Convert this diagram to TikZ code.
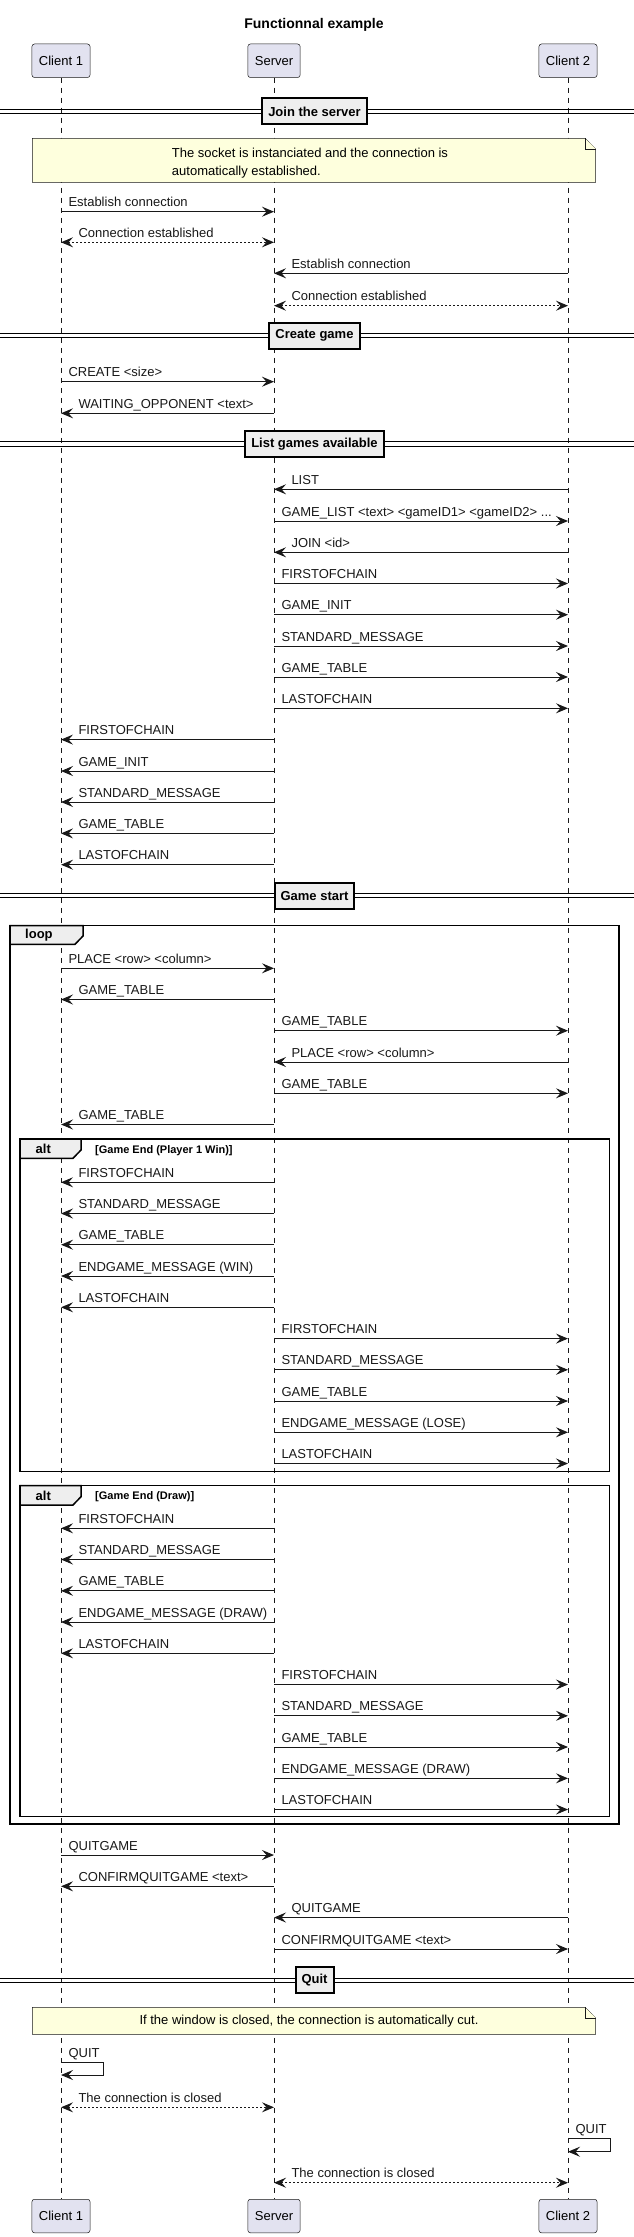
\documentclass[tikz,border=0pt]{standalone}
\usepackage{fontspec}
\setmainfont{Liberation Sans}
\usetikzlibrary{arrows.meta}
\definecolor{umlline}{HTML}{181818}
\definecolor{partfill}{HTML}{E2E2F0}
\definecolor{notefill}{HTML}{FEFFDD}
\definecolor{boxfill}{HTML}{EEEEEE}

\begin{document}
\begin{tikzpicture}[x=1pt,y=-1pt,
  every node/.style={font=\fontsize{13}{15}\selectfont},
  part/.style={draw=umlline,fill=partfill,rounded corners=2.5pt,line width=0.5pt,minimum height=33.5pt,inner xsep=7pt},
  life/.style={umlline,line width=0.5pt,dash pattern=on 5pt off 5pt},
  msg/.style={umlline,line width=1pt,-{Stealth[length=12pt,width=10pt,inset=4.5pt]}},
  rep/.style={umlline,line width=1pt,dash pattern=on 2pt off 2pt,{Stealth[length=12pt,width=10pt,inset=4.5pt]}-{Stealth[length=12pt,width=10pt,inset=4.5pt]}},
  lr/.style={pos=0,anchor=base west,xshift=7pt,yshift=5pt,inner sep=0pt},
  ll/.style={pos=1,anchor=base west,xshift=17pt,yshift=5pt,inner sep=0pt},
  dline/.style={black,line width=1pt},
  divbox/.style={draw=black,line width=2pt,fill=boxfill,inner xsep=6pt,minimum height=26pt,font=\bfseries\fontsize{13}{15}\selectfont},
  note/.style={draw=umlline,line width=0.5pt,fill=notefill},
  frame/.style={draw=black,line width=1.5pt},
  tabbox/.style={draw=black,line width=1.5pt,fill=boxfill},
  tablbl/.style={anchor=west,inner sep=0pt,font=\bfseries\fontsize{13}{15}\selectfont},
  cond/.style={anchor=base west,inner sep=0pt,font=\bfseries\fontsize{11}{13}\selectfont}
]
\useasboundingbox (0,0) rectangle (634,2237);

% title and participants
\node[font=\bfseries\fontsize{14}{16}\selectfont] (title) at (314,25) {Functionnal example};
\node[part] (c1) at (61,60.75) {Client 1};
\node[part] (srv) at (274,60.75) {Server};
\node[part] (c2) at (568,60.75) {Client 2};
\node[part] (c1b) at (61,2216) {Client 1};
\node[part] (srvb) at (274,2216) {Server};
\node[part] (c2b) at (568,2216) {Client 2};
\draw[life] (c1) -- (c1b);
\draw[life] (srv) -- (srvb);
\draw[life] (c2) -- (c2b);

% join the server
\draw[dline] (0,109.3) -- (634,109.3);
\draw[dline] (0,113.7) -- (634,113.7);
\node[divbox] (d1) at (314.5,111.5) {Join the server};
\draw[note] (32.4,138.3) -- (585,138.3) -- (595.6,148.8) -- (595.6,182.3) -- (32.4,182.3) -- cycle;
\draw[note] (585,138.3) -- (585,148.8) -- (595.6,148.8);
\node[align=left,font=\fontsize{13}{17.7}\selectfont] (n1) at (310,163) {The socket is instanciated and the connection is\\automatically established.};
\draw[msg] (c1 |- 0,211.7) -- (srv |- 0,211.7) node[lr] (t1) {Establish connection};
\draw[rep] (c1 |- 0,242.3) -- (srv |- 0,242.3) node[lr,xshift=10pt] (t2) {Connection established};
\draw[msg] (c2 |- 0,273.3) -- (srv |- 0,273.3) node[ll] (t3) {Establish connection};
\draw[rep] (srv |- 0,305.7) -- (c2 |- 0,305.7) node[lr,xshift=10pt] (t4) {Connection established};

% create game
\draw[dline] (0,333.5) -- (634,333.5);
\draw[dline] (0,337.9) -- (634,337.9);
\node[divbox] (d2) at (314.5,335.7) {Create game};
\draw[msg] (c1 |- 0,381.7) -- (srv |- 0,381.7) node[lr] (t5) {CREATE <size>};
\draw[msg] (srv |- 0,413.3) -- (c1 |- 0,413.3) node[ll] (t6) {WAITING\_OPPONENT <text>};

% list games available
\draw[dline] (0,441.8) -- (634,441.8);
\draw[dline] (0,446.2) -- (634,446.2);
\node[divbox] (d3) at (314.5,444) {List games available};
\draw[msg] (c2 |- 0,489.3) -- (srv |- 0,489.3) node[ll] (t7) {LIST};
\draw[msg] (srv |- 0,521) -- (c2 |- 0,521) node[lr] (t8) {GAME\_LIST <text> <gameID1> <gameID2> ...};
\draw[msg] (c2 |- 0,552.3) -- (srv |- 0,552.3) node[ll] (t9) {JOIN <id>};
\draw[msg] (srv |- 0,583.5) -- (c2 |- 0,583.5) node[lr] (t10) {FIRSTOFCHAIN};
\draw[msg] (srv |- 0,614.7) -- (c2 |- 0,614.7) node[lr] (t11) {GAME\_INIT};
\draw[msg] (srv |- 0,646) -- (c2 |- 0,646) node[lr] (t12) {STANDARD\_MESSAGE};
\draw[msg] (srv |- 0,677) -- (c2 |- 0,677) node[lr] (t13) {GAME\_TABLE};
\draw[msg] (srv |- 0,708.3) -- (c2 |- 0,708.3) node[lr] (t14) {LASTOFCHAIN};
\draw[msg] (srv |- 0,739.6) -- (c1 |- 0,739.6) node[ll] (t15) {FIRSTOFCHAIN};
\draw[msg] (srv |- 0,771) -- (c1 |- 0,771) node[ll] (t16) {GAME\_INIT};
\draw[msg] (srv |- 0,802) -- (c1 |- 0,802) node[ll] (t17) {STANDARD\_MESSAGE};
\draw[msg] (srv |- 0,833.4) -- (c1 |- 0,833.4) node[ll] (t18) {GAME\_TABLE};
\draw[msg] (srv |- 0,864.7) -- (c1 |- 0,864.7) node[ll] (t19) {LASTOFCHAIN};

% game start
\draw[dline] (0,893.5) -- (634,893.5);
\draw[dline] (0,897.9) -- (634,897.9);
\node[divbox] (d4) at (314.5,895.7) {Game start};
\draw[frame] (10.1,925.7) rectangle (619,1824);
\draw[tabbox] (10.1,925.7) -- (83,925.7) -- (83,936) -- (75,944.3) -- (10.1,944.3) -- cycle;
\node[tablbl] (loop) at (25,935.5) {loop};
\draw[msg] (c1 |- 0,968.3) -- (srv |- 0,968.3) node[lr] (t20) {PLACE <row> <column>};
\draw[msg] (srv |- 0,999.5) -- (c1 |- 0,999.5) node[ll] (t21) {GAME\_TABLE};
\draw[msg] (srv |- 0,1030.7) -- (c2 |- 0,1030.7) node[lr] (t22) {GAME\_TABLE};
\draw[msg] (c2 |- 0,1062) -- (srv |- 0,1062) node[ll] (t23) {PLACE <row> <column>};
\draw[msg] (srv |- 0,1093.3) -- (c2 |- 0,1093.3) node[lr] (t24) {GAME\_TABLE};
\draw[msg] (srv |- 0,1124.5) -- (c1 |- 0,1124.5) node[ll] (t25) {GAME\_TABLE};

% player 1 wins
\draw[frame] (20.2,1139) rectangle (609.3,1471.7);
\draw[tabbox] (20.2,1139) -- (81,1139) -- (81,1150) -- (73,1158.3) -- (20.2,1158.3) -- cycle;
\node[tablbl] (alt1) at (35.5,1148.7) {alt};
\node[cond] (cond1) at (95,1153) {[Game End (Player 1 Win)]};
\draw[msg] (srv |- 0,1182.3) -- (c1 |- 0,1182.3) node[ll] (t26) {FIRSTOFCHAIN};
\draw[msg] (srv |- 0,1213.5) -- (c1 |- 0,1213.5) node[ll] (t27) {STANDARD\_MESSAGE};
\draw[msg] (srv |- 0,1244.7) -- (c1 |- 0,1244.7) node[ll] (t28) {GAME\_TABLE};
\draw[msg] (srv |- 0,1276) -- (c1 |- 0,1276) node[ll] (t29) {ENDGAME\_MESSAGE (WIN)};
\draw[msg] (srv |- 0,1307.3) -- (c1 |- 0,1307.3) node[ll] (t30) {LASTOFCHAIN};
\draw[msg] (srv |- 0,1338.6) -- (c2 |- 0,1338.6) node[lr] (t31) {FIRSTOFCHAIN};
\draw[msg] (srv |- 0,1369.8) -- (c2 |- 0,1369.8) node[lr] (t32) {STANDARD\_MESSAGE};
\draw[msg] (srv |- 0,1401) -- (c2 |- 0,1401) node[lr] (t33) {GAME\_TABLE};
\draw[msg] (srv |- 0,1432.3) -- (c2 |- 0,1432.3) node[lr] (t34) {ENDGAME\_MESSAGE (LOSE)};
\draw[msg] (srv |- 0,1463.5) -- (c2 |- 0,1463.5) node[lr] (t35) {LASTOFCHAIN};

% draw
\draw[frame] (20.2,1485.7) rectangle (609.3,1816.7);
\draw[tabbox] (20.2,1485.7) -- (81,1485.7) -- (81,1496.7) -- (73,1505) -- (20.2,1505) -- cycle;
\node[tablbl] (alt2) at (35.5,1495.4) {alt};
\node[cond] (cond2) at (95,1499.7) {[Game End (Draw)]};
\draw[msg] (srv |- 0,1528.3) -- (c1 |- 0,1528.3) node[ll] (t36) {FIRSTOFCHAIN};
\draw[msg] (srv |- 0,1559.5) -- (c1 |- 0,1559.5) node[ll] (t37) {STANDARD\_MESSAGE};
\draw[msg] (srv |- 0,1590.8) -- (c1 |- 0,1590.8) node[ll] (t38) {GAME\_TABLE};
\draw[msg] (srv |- 0,1622) -- (c1 |- 0,1622) node[ll] (t39) {ENDGAME\_MESSAGE (DRAW)};
\draw[msg] (srv |- 0,1653.3) -- (c1 |- 0,1653.3) node[ll] (t40) {LASTOFCHAIN};
\draw[msg] (srv |- 0,1684.5) -- (c2 |- 0,1684.5) node[lr] (t41) {FIRSTOFCHAIN};
\draw[msg] (srv |- 0,1715.8) -- (c2 |- 0,1715.8) node[lr] (t42) {STANDARD\_MESSAGE};
\draw[msg] (srv |- 0,1747) -- (c2 |- 0,1747) node[lr] (t43) {GAME\_TABLE};
\draw[msg] (srv |- 0,1778.3) -- (c2 |- 0,1778.3) node[lr] (t44) {ENDGAME\_MESSAGE (DRAW)};
\draw[msg] (srv |- 0,1809.5) -- (c2 |- 0,1809.5) node[lr] (t45) {LASTOFCHAIN};

\draw[msg] (c1 |- 0,1855) -- (srv |- 0,1855) node[lr] (t46) {QUITGAME};
\draw[msg] (srv |- 0,1886.3) -- (c1 |- 0,1886.3) node[ll] (t47) {CONFIRMQUITGAME <text>};
\draw[msg] (c2 |- 0,1917.5) -- (srv |- 0,1917.5) node[ll] (t48) {QUITGAME};
\draw[msg] (srv |- 0,1949) -- (c2 |- 0,1949) node[lr] (t49) {CONFIRMQUITGAME <text>};

% quit
\draw[dline] (0,1978.3) -- (634,1978.3);
\draw[dline] (0,1982.7) -- (634,1982.7);
\node[divbox] (d5) at (314.5,1979.8) {Quit};
\draw[note] (32.4,2007.3) -- (585,2007.3) -- (595.6,2017.8) -- (595.6,2034.3) -- (32.4,2034.3) -- cycle;
\draw[note] (585,2007.3) -- (585,2017.8) -- (595.6,2017.8);
\node (n2) at (309,2020.8) {If the window is closed, the connection is automatically cut.};
\draw[msg] (c1 |- 0,2062.7) -- node[lr] (t50) {QUIT} ++(42,0) -- ++(0,12.3) -- (c1 |- 0,2075);
\draw[rep] (c1 |- 0,2107.3) -- (srv |- 0,2107.3) node[lr,xshift=10pt] (t51) {The connection is closed};
\draw[msg] (c2 |- 0,2138.7) -- node[lr] (t52) {QUIT} ++(42,0) -- ++(0,13) -- (c2 |- 0,2151.7);
\draw[rep] (srv |- 0,2182.7) -- (c2 |- 0,2182.7) node[lr,xshift=10pt] (t53) {The connection is closed};
\end{tikzpicture}
\end{document}
